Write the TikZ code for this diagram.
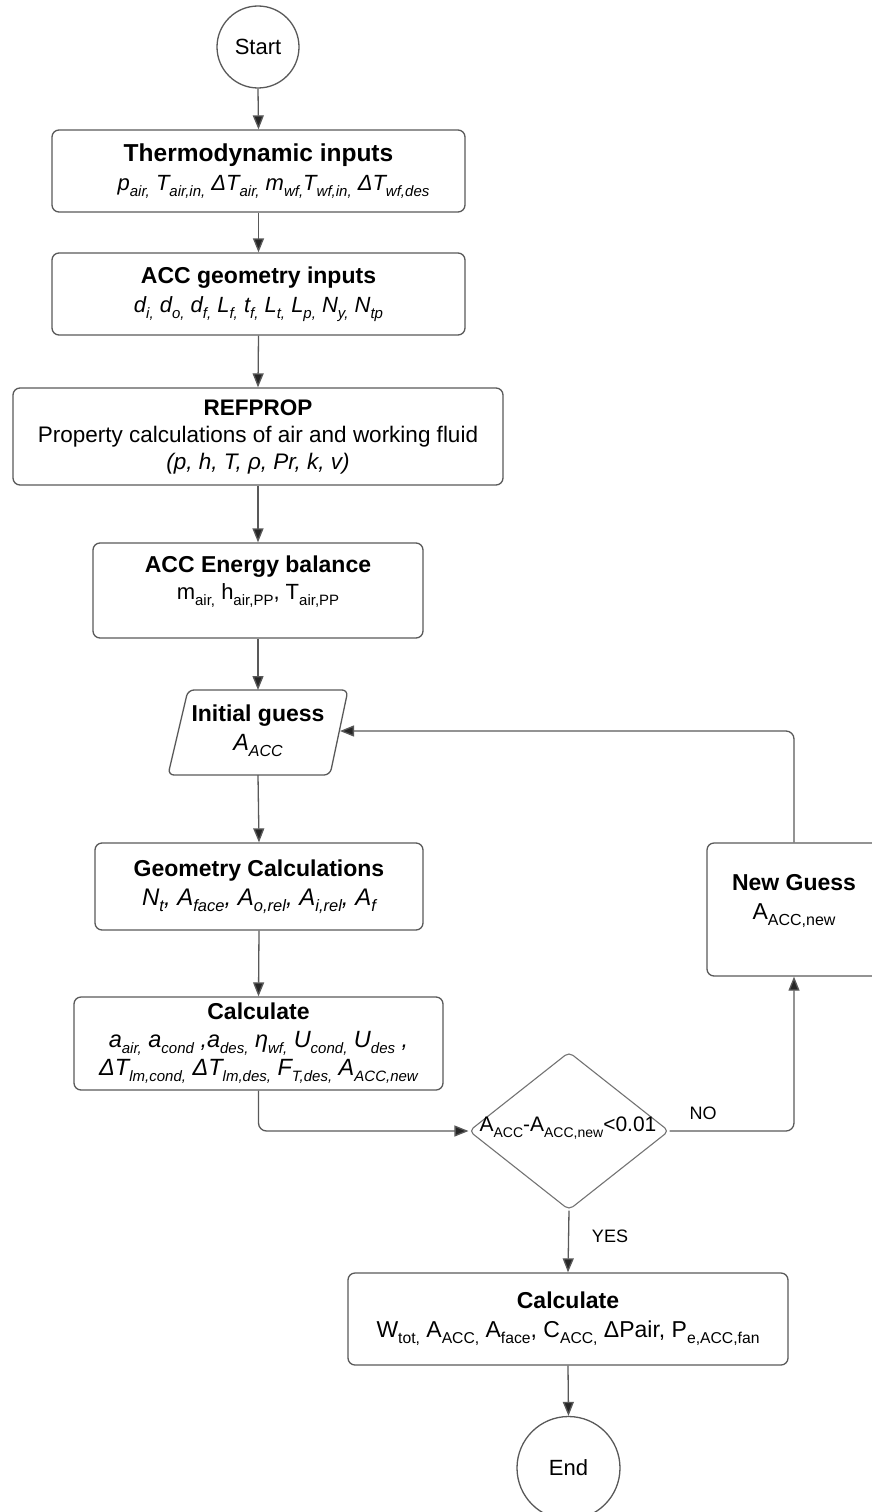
\documentclass[tikz,border=0pt]{standalone}
\usepackage{fontspec}
\setmainfont{Liberation Sans}
\usetikzlibrary{arrows.meta,shapes.geometric}
\newcommand{\subsz}{15}
\newcommand{\subx}[1]{\raisebox{-0.26em}{\fontsize{\subsz}{\subsz}\selectfont #1}}
\begin{document}
\begin{tikzpicture}[x=1pt,y=-1pt,
  box/.style={draw=black!65, line width=1.3pt, rounded corners=7pt, align=center, inner sep=0pt, font=\fontsize{22}{29}\selectfont},
  term/.style={circle, draw=black!65, line width=1.3pt, inner sep=0pt, font=\fontsize{22}{26}\selectfont},
  conn/.style={draw=black!65, line width=1.3pt, -{Triangle[length=14pt,width=11pt,fill=black!85]}},
  lbl/.style={font=\fontsize{18}{20}\selectfont, inner sep=0pt}]
\useasboundingbox (0,0) rectangle (872,1512);

\node[term, minimum size=82pt] (start) at (258,47) {Start};

\node[box, minimum width=413pt, minimum height=82pt] (thermo) at (258.5,171)
  {{\fontsize{24.5}{29}\selectfont\bfseries Thermodynamic inputs}\\
   \hspace*{30pt}\itshape p\subx{air,} T\subx{air,in,} ΔT\subx{air,} m\subx{wf,}T\subx{wf,in,} ΔT\subx{wf,des}};

\node[box, minimum width=413pt, minimum height=82pt] (geo) at (258.5,294)
  {{\fontsize{23}{29}\selectfont\bfseries ACC geometry inputs}\\
   \itshape d\subx{i,} d\subx{o,} d\subx{f,} L\subx{f,} t\subx{f,} L\subx{t,} L\subx{p,} N\subx{y,} N\subx{tp}};

\node[box, minimum width=490pt, minimum height=97pt, font=\fontsize{22.5}{27}\selectfont] (refprop) at (258,436.5)
  {\textbf{REFPROP}\\
   Property calculations of air and working fluid\\
   \itshape (p, h, T, ρ, Pr, k, v)};

\node[box, minimum width=330pt, minimum height=95pt] (energy) at (258,590.5)
  {{\fontsize{23}{29}\selectfont\bfseries ACC Energy balance}\\[-2pt]
   m\subx{air,} h\subx{air,PP}, T\subx{air,PP}\\[-4pt]\mbox{}};

% Initial guess (parallelogram)
\draw[draw=black!65, line width=1.3pt, rounded corners=6pt]
  (268,690) -- (348,690) -- (330,775) -- (168,775) -- (188,690) -- cycle;
\node[align=center, inner sep=0pt, font=\fontsize{23.5}{29}\selectfont] (ig) at (258,731)
  {{\fontsize{23}{29}\selectfont\bfseries Initial guess}\\ \renewcommand{\subsz}{16}\itshape A\subx{ACC}};
\coordinate (igN) at (258,690);
\coordinate (igS) at (258,775);
\coordinate (igE) at (340,731);

\node[box, minimum width=328pt, minimum height=87pt, font=\fontsize{24}{29}\selectfont] (gcalc) at (259,886.5)
  {{\fontsize{23}{29}\selectfont\bfseries Geometry Calculations}\\
   \renewcommand{\subsz}{16.5}\itshape N\subx{t}, A\subx{face}, A\subx{o,rel}, A\subx{i,rel}, A\subx{f}};

\node[box, minimum width=369pt, minimum height=93pt, font=\fontsize{23.5}{28}\selectfont] (calc) at (258.5,1043.5)
  {\renewcommand{\subsz}{16}{\fontsize{23}{28}\selectfont\bfseries Calculate}\\
   \itshape a\subx{air,} a\subx{cond} ,a\subx{des,} η\subx{wf,} U\subx{cond,} U\subx{des} ,\\
   \itshape ΔT\subx{lm,cond,} ΔT\subx{lm,des,} F\subx{T,des,} A\subx{ACC,new}};

\node[diamond, draw=black!55, line width=1.1pt, rounded corners=5pt, minimum width=200pt, minimum height=158pt, inner sep=0pt] (dia) at (569,1131) {};
\node[inner sep=0pt, font=\fontsize{21}{24}\selectfont] (dtext) at (568,1128) {\renewcommand{\subsz}{14}A\subx{ACC}-A\subx{ACC,new}<0.01};

\node[box, minimum width=174pt, minimum height=133pt, font=\fontsize{23}{29}\selectfont] (ng) at (794,909.5)
  {{\bfseries New Guess}\\
   \renewcommand{\subsz}{16}A\subx{ACC,new}\\[-4pt]\mbox{}};

\node[box, minimum width=440pt, minimum height=92pt, font=\fontsize{23}{29}\selectfont] (calc2) at (568,1319)
  {{\bfseries Calculate}\\
   \renewcommand{\subsz}{15.7}W\subx{tot,} A\subx{ACC,} A\subx{face}, C\subx{ACC,} ΔPair, P\subx{e,ACC,fan}};

\node[term, minimum size=103pt] (end) at (568.5,1468) {End};

\node[lbl] (no) at (703,1113) {NO};
\node[lbl] (yes) at (610,1236) {YES};

\draw[conn] (start.south) -- (thermo.north);
\draw[conn] (thermo.south) -- (geo.north);
\draw[conn] (geo.south) -- (refprop.north);
\draw[conn] (refprop.south) -- (energy.north);
\draw[conn] (energy.south) -- (igN);
\draw[conn] (igS) -- (gcalc.north);
\draw[conn] (gcalc.south) -- (calc.north);
\draw[conn, rounded corners=8pt] (calc.south) |- (dia.west);
\draw[conn, rounded corners=8pt] (dia.east) -| (ng.south);
\draw[conn, rounded corners=8pt] (ng.north) |- (igE);
\draw[conn] (dia.south) -- (calc2.north);
\draw[conn] (calc2.south) -- (end.north);
\end{tikzpicture}
\end{document}
